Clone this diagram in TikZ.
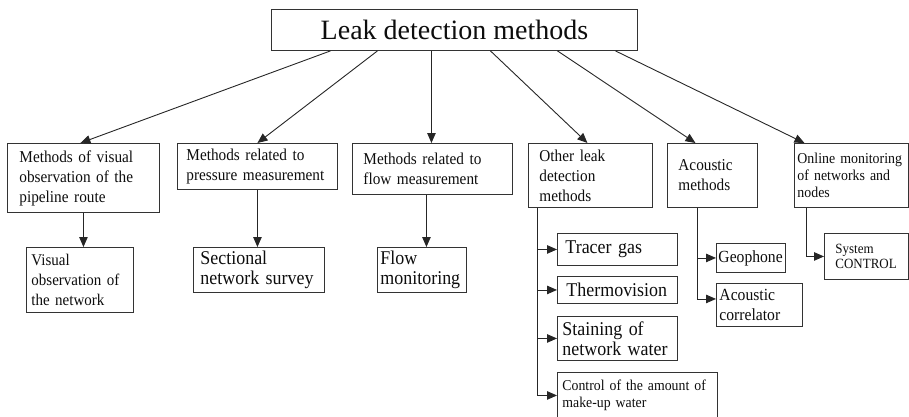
\documentclass[tikz,border=0pt]{standalone}
\usepackage{fontspec}
\setmainfont{Liberation Serif}[FakeStretch=0.92]
\newfontfamily\titlefont{Liberation Serif}
\usetikzlibrary{arrows.meta,calc}
\begin{document}
\begin{tikzpicture}[x=1pt,y=-1pt,
  box/.style={draw=black!80, line width=0.9pt, anchor=north west, align=left, inner ysep=0pt, text=black!95},
  arr/.style={draw=black!85, line width=0.9pt, -{Triangle[length=10pt,width=8.5pt]}},
  lvA/.style={font=\fontsize{16.6}{20}\selectfont},
  lvB/.style={font=\fontsize{19.5}{20}\selectfont}]
\useasboundingbox (0,0) rectangle (909,416);
\clip (0,0) rectangle (909,416);
% title
\node[box, align=center, minimum width=366pt, minimum height=41pt, font=\titlefont\fontsize{28}{30}\selectfont] (top) at (271,9) {Leak detection methods};
% level 1
\node[box, lvA, minimum width=152pt, minimum height=69pt, inner xsep=12pt, text width=128pt] (b1) at (7,143) {Methods of visual\\observation of the\\pipeline route};
\node[box, lvA, minimum width=160pt, minimum height=46pt, inner xsep=9pt, text width=142pt] (b2) at (177,143) {Methods related to\\pressure measurement};
\node[box, lvA, minimum width=160pt, minimum height=51pt, inner xsep=11pt, text width=138pt] (b3) at (352,143) {Methods related to\\flow measurement};
\node[box, lvA, minimum width=124pt, minimum height=64pt, inner xsep=11pt, text width=102pt] (b4) at (528,143) {Other leak\\detection\\methods};
\node[box, lvA, minimum width=90pt, minimum height=64pt, inner xsep=11pt, text width=68pt] (b5) at (667,143) {Acoustic\\methods};
\node[box, font=\fontsize{15.1}{17}\selectfont, minimum width=114pt, minimum height=64pt, inner xsep=3pt, text width=108pt] (b6) at (794,143) {Online monitoring\\of networks and\\nodes};
% level 2
\node[box, font=\fontsize{16.3}{20}\selectfont, minimum width=107pt, minimum height=65pt, inner xsep=5pt, text width=97pt] (c1) at (26,247) {Visual\\observation of\\the network};
\node[box, lvB, minimum width=131pt, minimum height=45pt, inner xsep=7pt, text width=117pt] (c2) at (193,247) {Sectional\\network survey};
\node[box, lvB, minimum width=89pt, minimum height=45pt, inner xsep=3pt, text width=83pt] (c3) at (377,247) {Flow\\monitoring};
\node[box, lvB, minimum width=120pt, minimum height=32pt, inner xsep=8pt, text width=104pt] (d1) at (557,233) {Tracer gas};
\node[box, lvB, minimum width=120pt, minimum height=27pt, inner xsep=9pt, text width=102pt] (d2) at (557,276) {Thermovision};
\node[box, lvB, minimum width=120pt, minimum height=44pt, inner xsep=5pt, text width=110pt] (d3) at (557,316) {Staining of\\network water};
\node[box, font=\fontsize{15}{17}\selectfont, minimum width=160pt, minimum height=46pt, inner xsep=5pt, text width=150pt] (d4) at (557,372) {Control of the amount of\\make-up water};
\node[box, font=\fontsize{17}{18}\selectfont, minimum width=69pt, minimum height=29pt, inner xsep=2pt, text width=65pt] (e1) at (716,243) {Geophone};
\node[box, font=\fontsize{17}{20}\selectfont, minimum width=86pt, minimum height=43pt, inner xsep=3pt, text width=80pt] (e2) at (716,283) {Acoustic\\correlator};
\node[box, font=\fontsize{14.1}{15}\selectfont, minimum width=84pt, minimum height=46pt, inner xsep=11pt, text width=62pt] (f1) at (824,233) {System\\CONTROL};
% connectors from title
\draw[arr] ([xshift=-124pt]top.south) -- ([xshift=-3pt]b1.north);
\draw[arr] ([xshift=-77pt]top.south) -- (b2.north);
\draw[arr] ([xshift=-23pt]top.south) -- ([xshift=-1pt]b3.north);
\draw[arr] ([xshift=36pt]top.south) -- ([xshift=-3pt]b4.north);
\draw[arr] ([xshift=103pt]top.south) -- ([xshift=-17pt]b5.north);
\draw[arr] ([xshift=161pt]top.south) -- ([xshift=-47pt]b6.north);
% vertical
\draw[arr] (b1.south) -- (b1.south |- c1.north);
\draw[arr] (b2.south) -- (b2.south |- c2.north);
\draw[arr] ([xshift=-6pt]b3.south) -- ([xshift=-6pt]b3.south |- c3.north);
% trunks
\coordinate (t4) at ([xshift=9pt]b4.south west);
\draw[arr] (t4) |- (d4.west);
\draw[arr] (t4 |- d1.west) -- (d1.west);
\draw[arr] (t4 |- d2.west) -- (d2.west);
\draw[arr] (t4 |- d3.west) -- (d3.west);
\coordinate (t5) at ([xshift=30pt]b5.south west);
\draw[arr] (t5) |- ([yshift=6pt]e2.west);
\draw[arr] (t5 |- e1.west) -- (e1.west);
\coordinate (t6) at ([xshift=12pt]b6.south west);
\draw[arr] (t6) |- (f1.west);
\end{tikzpicture}
\end{document}
